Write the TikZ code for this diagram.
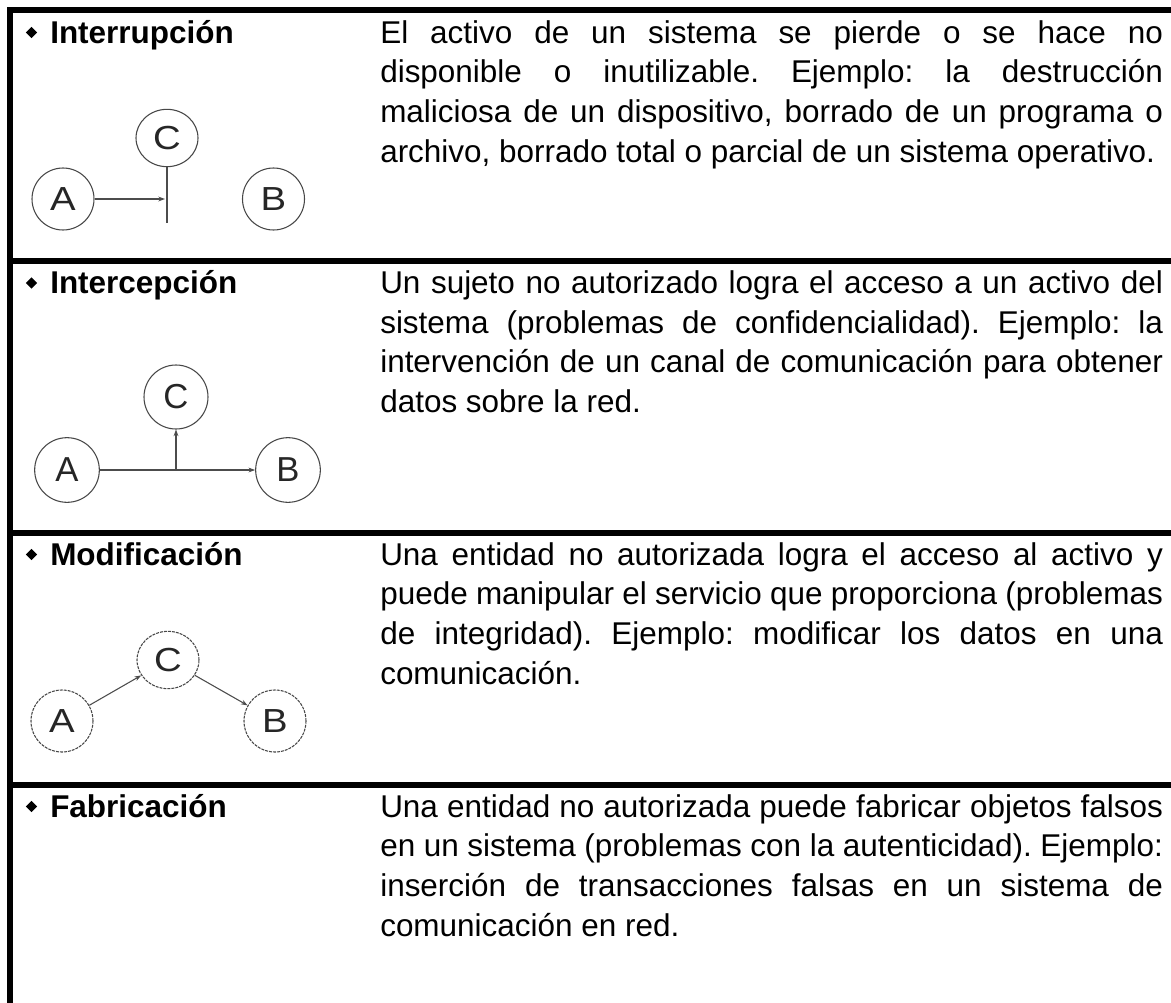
\documentclass[tikz,border=0pt]{standalone}
\usepackage{fontspec}
\setmainfont{Liberation Sans}
\usetikzlibrary{arrows.meta,shapes.geometric}
\frenchspacing
\newlength\colw
\setlength\colw{587pt}
\newcommand\bodyfont{\fontsize{23.6pt}{29.8pt}\selectfont}
\newcommand\jl[1]{\makebox[\colw][s]{#1}}
\newcommand\wideletter[1]{\scalebox{1.15}[1]{#1}}
\tikzset{
  txtline/.style={anchor=base west, inner sep=0pt, font=\bodyfont},
  headline/.style={anchor=base west, inner sep=0pt, font=\bodyfont\bfseries},
  bulletmark/.style={diamond, fill=black, inner sep=0pt, minimum width=8.6pt, minimum height=8.6pt},
  rulebar/.style={fill=black},
  letter/.style={inner sep=0pt, draw=black!72, line width=0.8pt, text=black!85, font=\fontsize{25pt}{25pt}\selectfont},
  circA/.style={letter, circle, minimum size=46.5pt},
  ellC/.style={letter, ellipse, minimum width=46.5pt, minimum height=43pt},
  dashcirc/.style={dash pattern=on 2.2pt off 0.8pt},
  conn/.style={draw=black!70, line width=0.8pt},
  tip/.style={-{Stealth[length=5pt,width=3.6pt]}},
}
\begin{document}
\begin{tikzpicture}[x=0.75pt,y=-0.75pt]
\useasboundingbox (0,0) rectangle (1171,1003);
\fill[white] (0,0) rectangle (1171,1003);
% frame and separators
\fill[rulebar] (7,7) rectangle (1171,13);
\fill[rulebar] (7,7) rectangle (13,1003);
\fill[rulebar] (7,258) rectangle (1171,264);
\fill[rulebar] (7,529.5) rectangle (1171,535.5);
\fill[rulebar] (7,781.5) rectangle (1171,787.5);

% ---------------- Row 1 ----------------
\node[bulletmark] (b1) at (31.5,32.5) {};
\node[headline] (h1) at (50,43) {Interrupción};
\node[txtline] (t11) at (380,43) {\jl{El activo de un sistema se pierde o se hace no}};
\node[txtline] (t12) at (380,82.7) {\jl{disponible o inutilizable. Ejemplo: la destrucción}};
\node[txtline] (t13) at (380,122.4) {\jl{maliciosa de un dispositivo, borrado de un programa o}};
\node[txtline] (t14) at (380,162.1) {archivo, borrado total o parcial de un sistema operativo.};

\node[circA] (a1) at (63,199) {\wideletter{A}};
\node[ellC] (c1) at (167,138) {\wideletter{C}};
\node[circA] (bb1) at (273.5,199) {\wideletter{B}};
\coordinate (stop1) at (165,199);
\coordinate (bar1) at (167,223);
\draw[conn,tip] (a1.east) -- (stop1);
\draw[conn] (c1.south) -- (bar1);

% ---------------- Row 2 ----------------
\node[bulletmark] (b2) at (31.5,283) {};
\node[headline] (h2) at (50,293.5) {Intercepción};
\node[txtline] (t21) at (380,293.5) {\jl{Un sujeto no autorizado logra el acceso a un activo del}};
\node[txtline] (t22) at (380,333.2) {\jl{sistema (problemas de confidencialidad). Ejemplo: la}};
\node[txtline] (t23) at (380,372.9) {\jl{intervención de un canal de comunicación para obtener}};
\node[txtline] (t24) at (380,412.6) {datos sobre la red.};

\node[circA, minimum size=48.5pt, font=\fontsize{26pt}{26pt}\selectfont] (a2) at (67,470) {A};
\node[circA, minimum size=48pt, font=\fontsize{26pt}{26pt}\selectfont] (c2) at (176,397) {C};
\node[circA, minimum size=48.5pt, font=\fontsize{26pt}{26pt}\selectfont] (bb2) at (288,470) {B};
\coordinate (j2) at (176,470);
\draw[conn,tip] (a2.east) -- (bb2.west);
\draw[conn,tip] (j2) -- (c2.south);

% ---------------- Row 3 ----------------
\node[bulletmark] (b3) at (31.5,554.5) {};
\node[headline] (h3) at (50,565) {Modificación};
\node[txtline] (t31) at (380,565) {\jl{Una entidad no autorizada logra el acceso al activo y}};
\node[txtline] (t32) at (380,604.7) {\jl{puede manipular el servicio que proporciona (problemas}};
\node[txtline] (t33) at (380,644.4) {\jl{de integridad). Ejemplo: modificar los datos en una}};
\node[txtline] (t34) at (380,684.1) {comunicación.};

\node[circA, dashcirc] (a3) at (62,721) {\wideletter{A}};
\node[ellC, dashcirc] (c3) at (168,660) {\wideletter{C}};
\node[circA, dashcirc] (bb3) at (275,721) {\wideletter{B}};
\draw[conn,tip] (a3) -- (c3);
\draw[conn,tip] (c3) -- (bb3);

% ---------------- Row 4 ----------------
\node[bulletmark] (b4) at (31.5,806.5) {};
\node[headline] (h4) at (50,817) {Fabricación};
\node[txtline] (t41) at (380,817) {\jl{Una entidad no autorizada puede fabricar objetos falsos}};
\node[txtline] (t42) at (380,856.7) {\jl{en un sistema (problemas con la autenticidad). Ejemplo:}};
\node[txtline] (t43) at (380,896.4) {\jl{inserción de transacciones falsas en un sistema de}};
\node[txtline] (t44) at (380,936.1) {comunicación en red.};
\end{tikzpicture}
\end{document}
